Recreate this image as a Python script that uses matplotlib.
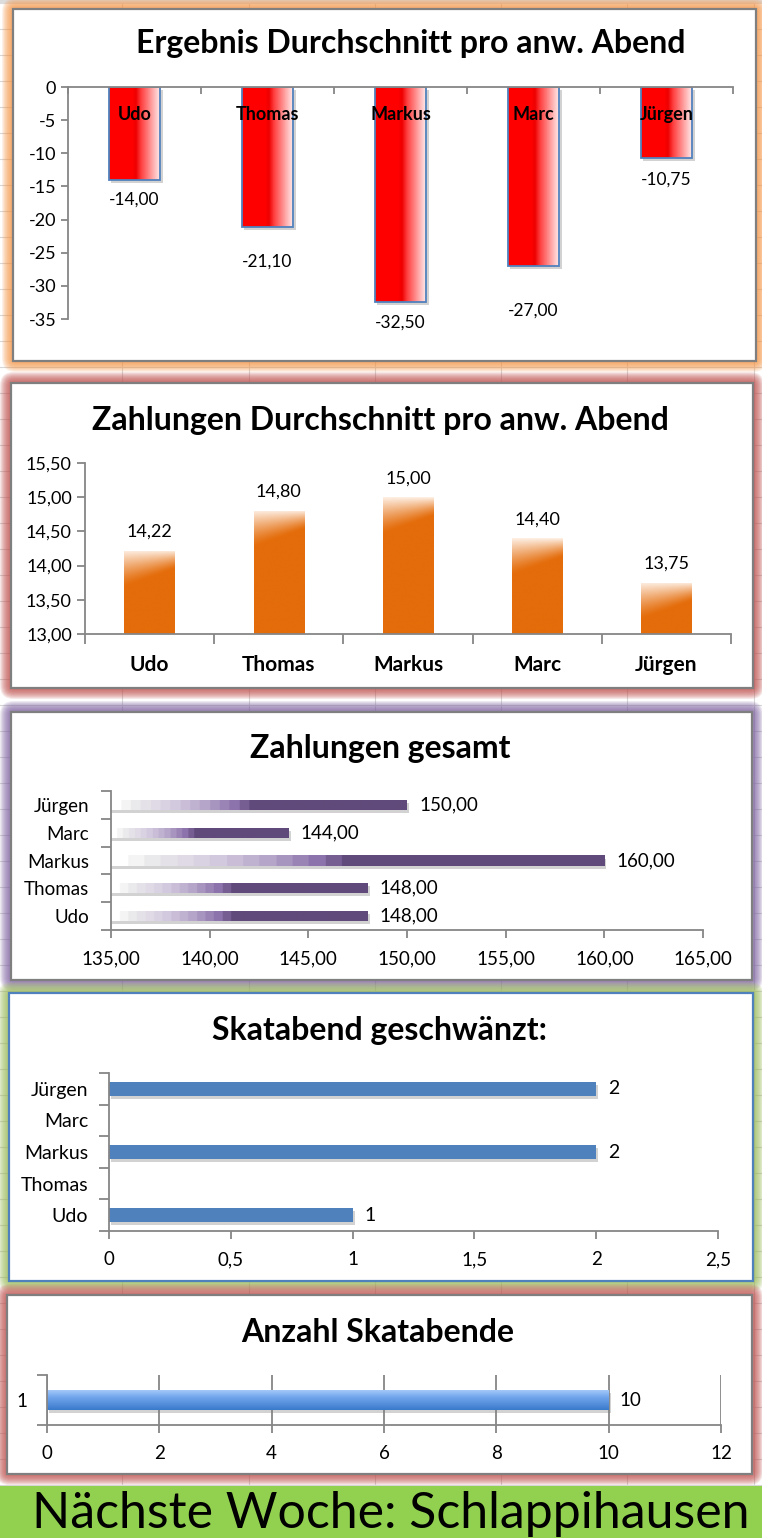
import numpy as np
import matplotlib.pyplot as plt
from matplotlib.patches import Rectangle, FancyBboxPatch
from matplotlib.colors import to_rgb
import matplotlib.patheffects as pe

plt.rcParams['font.family'] = ['Lato', 'DejaVu Sans']

W, H = 762, 1538

# --- data ---
names = ['Udo', 'Thomas', 'Markus', 'Marc', 'Jürgen']
ergebnis = [-14.00, -21.10, -32.50, -27.00, -10.75]
zahlung_schnitt = [14.22, 14.80, 15.00, 14.40, 13.75]
zahlung_gesamt = [148.0, 148.0, 160.0, 144.0, 150.0]
geschwaenzt = [1, np.nan, 2, np.nan, 2]
abende_labels = ['1']
abende = [10]

titles = ['Ergebnis Durchschnitt pro anw. Abend',
          'Zahlungen Durchschnitt pro anw. Abend',
          'Zahlungen gesamt',
          'Skatabend geschwänzt:',
          'Anzahl Skatabende']
banner = 'Nächste Woche: Schlappihausen'

ticks1 = [0, -5, -10, -15, -20, -25, -30, -35]
ticks2 = [13.0, 13.5, 14.0, 14.5, 15.0, 15.5]
ticks3 = [135, 140, 145, 150, 155, 160, 165]
ticks4 = [0, 0.5, 1, 1.5, 2, 2.5]
ticks5 = [0, 2, 4, 6, 8, 10, 12]

# gap (px) between bar end and value label in the first chart, as placed in the sheet
label_gap1 = [20, 35, 20, 45, 21]

AX_C = '#868686'


def de(v, nd=2):
    return f'{v:.{nd}f}'.replace('.', ',')


def de_g(v):
    return f'{v:g}'.replace('.', ',')


def pt(px):
    return px * 0.72


fig = plt.figure(figsize=(W / 100, H / 100), dpi=100)

# background: spreadsheet grid, glows, chart boxes
bg = fig.add_axes([0, 0, 1, 1])
bg.set_xlim(0, W)
bg.set_ylim(H, 0)
bg.axis('off')
for gx in [122, 249, 375, 501, 627, 754]:
    bg.plot([gx, gx], [0, H], color='#d6d6d6', lw=0.8, zorder=0)
for gy in np.arange(3, H, 26):
    bg.plot([0, W], [gy, gy], color='#d6d6d6', lw=0.8, zorder=0)
bg.add_patch(Rectangle((0, 0), W, 4, fc='#dcdcdc', ec='none', zorder=0.5))

boxes = [(13, 9, 756, 361, '#f79646', '#7f7f7f'),
         (11, 383, 753, 688, '#c0504d', '#7f7f7f'),
         (11, 712, 752, 980, '#8064a2', '#7f7f7f'),
         (9, 993, 753, 1281, '#9bbb59', '#4f81bd'),
         (7, 1295, 752, 1474, '#c0504d', '#7f7f7f')]
for x0, y0, x1, y1, gcol, ecol in boxes:
    for i in range(11, 0, -1):
        bg.add_patch(FancyBboxPatch((x0, y0), x1 - x0, y1 - y0,
                                    boxstyle=f'round,pad={i},rounding_size={i + 3}',
                                    fc=gcol, ec='none', alpha=0.13, zorder=1))
    bg.add_patch(Rectangle((x0, y0), x1 - x0, y1 - y0, fc='white', ec=ecol,
                           lw=1.6, zorder=2))

title_pos = [(411, 53), (380, 430), (380, 758), (379, 1040), (378, 1342)]
for (tx, ty), t in zip(title_pos, titles):
    bg.text(tx, ty, t, ha='center', va='baseline', fontsize=23, fontweight='bold', zorder=3)

bg.add_patch(Rectangle((0, 1486), W, H - 1486, fc='#92d050', ec='none', zorder=2))
bg.text(391, 1528, banner, ha='center', va='baseline', fontsize=36, zorder=3)


def add_ax(l, t, r, b):
    ax = fig.add_axes([l / W, 1 - b / H, (r - l) / W, (b - t) / H])
    ax.patch.set_alpha(0)
    for s in ax.spines.values():
        s.set_color(AX_C)
        s.set_linewidth(1.3)
    ax.spines['top'].set_visible(False)
    ax.spines['right'].set_visible(False)
    ax.tick_params(which='both', colors=AX_C, labelcolor='black', width=1.3)
    return ax


def gradient_fill(ax, bar, img, x0=None, y0=None):
    bx0, by0 = bar.get_x(), bar.get_y()
    bx1, by1 = bx0 + bar.get_width(), by0 + bar.get_height()
    xa, xb = sorted([bx0, bx1])
    ya, yb = sorted([by0, by1])
    if x0 is not None:
        xa = max(xa, x0)
    if y0 is not None:
        ya = max(ya, y0)
    im = ax.imshow(img, extent=(xa, xb, ya, yb), origin='upper', aspect='auto',
                   interpolation='bilinear', zorder=bar.get_zorder() + 0.5)
    im.set_clip_path(bar)


def ramp(knots, cols, n=200):
    u = np.linspace(0, 1, n)
    rgb = np.array([to_rgb(c) for c in cols])
    return np.stack([np.interp(u, knots, rgb[:, k]) for k in range(3)], axis=-1)


shadow = [pe.SimplePatchShadow(offset=(1.5, -2.2), shadow_rgbFace='#808080', alpha=0.35), pe.Normal()]
x = np.arange(len(names))

# ---------- 1: Ergebnis Durchschnitt ----------
ax1 = add_ax(68, 87, 733, 319)
bars = ax1.bar(x, ergebnis, width=0.39, color='#ff0000', zorder=2)
red = ramp([0, 0.45, 0.52, 0.62, 1.0], ['#ff0000', '#ff0000', '#ee0000', '#ff4040', '#fff2f2'])
for b in bars:
    b.set_path_effects(shadow)
    gradient_fill(ax1, b, red[None, :, :])
ax1.bar(x, ergebnis, width=0.39, fill=False, edgecolor='#4f81bd', lw=1.3, zorder=4)
ax1.set_xlim(-0.5, 4.5)
ax1.set_ylim(-35, 0)
ax1.spines['bottom'].set_position(('data', 0))
ax1.xaxis.set_zorder(6)
ax1.spines['bottom'].set_zorder(6)
ax1.set_yticks(ticks1)
ax1.set_yticklabels([str(v) for v in ticks1], fontsize=13)
ax1.tick_params(axis='y', length=5)
ax1.set_xticks(x)
ax1.set_xticklabels(names, fontsize=13, fontweight='bold')
ax1.set_xticks(np.arange(-0.5, 5, 1), minor=True)
ax1.tick_params(axis='x', which='major', length=0, pad=pt(19))
ax1.tick_params(axis='x', which='minor', length=5)
for xi, v, gap in zip(x, ergebnis, label_gap1):
    ax1.annotate(de(v), (xi, v), xytext=(0, -pt(gap)), textcoords='offset points',
                 ha='center', va='center', fontsize=12.5)

# ---------- 2: Zahlungen Durchschnitt ----------
ax2 = add_ax(85, 463, 731, 634)
ax2.set_xlim(-0.5, 4.5)
ax2.set_ylim(13, 15.5)
bars = ax2.bar(x, zahlung_schnitt, width=0.39, color='#e46c0a', zorder=2)
px_per_unit = 171 / 2.5
base = np.array(to_rgb('#e46c0a'))
light = np.array(to_rgb('#fdeee2'))
for b, v in zip(bars, zahlung_schnitt):
    ny = max(int((v - 13) * px_per_unit), 2)
    d = np.arange(ny)[:, None]
    u = np.linspace(0, 1, 50)[None, :]
    d0 = 36 - 18 * u
    f = np.clip(1 - d / d0, 0, 1) ** 1.3
    img = base * (1 - f[..., None]) + light * f[..., None]
    gradient_fill(ax2, b, img, y0=13)
ax2.set_xlim(-0.5, 4.5)
ax2.set_ylim(13, 15.5)
ax2.set_yticks(ticks2)
ax2.set_yticklabels([de(v) for v in ticks2], fontsize=13)
ax2.tick_params(axis='y', length=6)
ax2.set_xticks(x)
ax2.set_xticklabels(names, fontsize=15, fontweight='bold')
ax2.set_xticks(np.arange(-0.5, 5, 1), minor=True)
ax2.tick_params(axis='x', which='major', length=0, pad=pt(21))
ax2.tick_params(axis='x', which='minor', length=7)
for xi, v in zip(x, zahlung_schnitt):
    ax2.annotate(de(v), (xi, v), xytext=(0, pt(19)), textcoords='offset points',
                 ha='center', va='center', fontsize=13)

# ---------- 3: Zahlungen gesamt ----------
ax3 = add_ax(111, 791, 703, 930)
bars = ax3.barh(x, zahlung_gesamt, height=0.36, color='#604a7b', zorder=2)
steps = (np.linspace(0, 1, 400, endpoint=False) * 30).astype(int)
purple = ramp([0, 0.06, 0.2, 0.32, 0.42, 0.48, 1.0],
              ['#ffffff', '#ececec', '#d5cce0', '#b3a2c7', '#8a70aa', '#604a7b', '#604a7b'],
              n=30)[steps]
for b in bars:
    b.set_path_effects(shadow)
    gradient_fill(ax3, b, purple[None, :, :], x0=135)
ax3.set_xlim(135, 165)
ax3.set_ylim(-0.5, 4.5)
ax3.set_xticks(ticks3)
ax3.set_xticklabels([de(v) for v in ticks3], fontsize=13.5)
ax3.tick_params(axis='x', length=6, pad=pt(12))
ax3.set_yticks(x)
ax3.set_yticklabels(names, fontsize=13.5)
ax3.set_yticks(np.arange(-0.5, 5, 1), minor=True)
ax3.tick_params(axis='y', which='major', length=0, pad=pt(22))
ax3.tick_params(axis='y', which='minor', length=7)
for yi, v in zip(x, zahlung_gesamt):
    ax3.annotate(de(v), (v, yi), xytext=(pt(12), 0), textcoords='offset points',
                 ha='left', va='center', fontsize=13.5)

# ---------- 4: Skatabend geschwänzt ----------
ax4 = add_ax(109, 1073, 718, 1231)
bars = ax4.barh(x, np.nan_to_num(geschwaenzt), height=0.43, color='#4f81bd', zorder=2)
for b in bars:
    b.set_path_effects(shadow)
ax4.set_xlim(0, 2.5)
ax4.set_ylim(-0.5, 4.5)
ax4.set_xticks(ticks4)
ax4.set_xticklabels([de_g(v) for v in ticks4], fontsize=13.5)
ax4.tick_params(axis='x', length=6, pad=pt(12))
ax4.set_yticks(x)
ax4.set_yticklabels(names, fontsize=14)
ax4.set_yticks(np.arange(-0.5, 5, 1), minor=True)
ax4.tick_params(axis='y', which='major', length=0, pad=pt(21))
ax4.tick_params(axis='y', which='minor', length=7)
for yi, v in zip(x, geschwaenzt):
    if not np.isnan(v):
        ax4.annotate(f'{v:g}', (v, yi), xytext=(pt(12), 0), textcoords='offset points',
                     ha='left', va='center', fontsize=14)

# ---------- 5: Anzahl Skatabende ----------
ax5 = add_ax(47, 1375, 721, 1425)
y5 = np.arange(len(abende))
bars = ax5.barh(y5, abende, height=0.4, color='#4f81bd', zorder=2)
blue = ramp([0, 0.35, 1.0], ['#a3c8f8', '#72a6ec', '#3a7acc'], n=60)
for b in bars:
    b.set_path_effects(shadow)
    gradient_fill(ax5, b, blue[:, None, :])
ax5.set_xlim(0, 12)
ax5.set_ylim(-0.5, 0.5)
ax5.set_xticks(ticks5)
ax5.set_xticklabels([str(v) for v in ticks5], fontsize=13.5)
ax5.tick_params(axis='x', length=6, pad=pt(12))
ax5.grid(axis='x', color=AX_C, lw=1.3, zorder=1)
ax5.set_axisbelow(True)
ax5.set_yticks(y5)
ax5.set_yticklabels(abende_labels, fontsize=13.5)
ax5.set_yticks([-0.5, 0.5], minor=True)
ax5.tick_params(axis='y', which='major', length=0, pad=pt(20))
ax5.tick_params(axis='y', which='minor', length=7)
for yi, v in zip(y5, abende):
    ax5.annotate(str(v), (v, yi), xytext=(pt(11), 0), textcoords='offset points',
                 ha='left', va='center', fontsize=13.5)

fig.savefig('out.png', dpi=100)
